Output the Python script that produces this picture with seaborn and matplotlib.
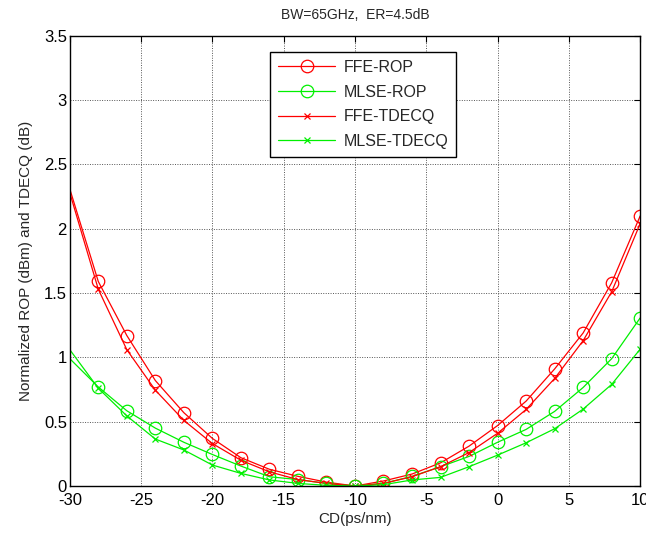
import numpy as np
import pandas as pd
import matplotlib
matplotlib.use("Agg")
import matplotlib.pyplot as plt
import seaborn as sns

cd = [-30, -28, -26, -24, -22, -20, -18, -16, -14, -12, -10, -8, -6, -4, -2, 0, 2, 4, 6, 8, 10]
ffe_rop = [2.31, 1.59, 1.17, 0.82, 0.57, 0.37, 0.22, 0.13, 0.075, 0.03, 0.0,
           0.039, 0.093, 0.18, 0.31, 0.47, 0.66, 0.91, 1.19, 1.58, 2.10]
mlse_rop = [0.99, 0.77, 0.585, 0.45, 0.34, 0.245, 0.155, 0.072, 0.05, 0.02, 0.0,
            0.02, 0.075, 0.15, 0.23, 0.34, 0.44, 0.58, 0.766, 0.99, 1.307]
ffe_tdecq = [2.28, 1.53, 1.06, 0.745, 0.51, 0.33, 0.20, 0.11, 0.05, 0.02, 0.0,
             0.02, 0.072, 0.15, 0.26, 0.41, 0.595, 0.836, 1.13, 1.51, 2.04]
mlse_tdecq = [1.06, 0.76, 0.545, 0.365, 0.28, 0.163, 0.098, 0.047, 0.02, 0.005, 0.0,
              0.01, 0.047, 0.067, 0.15, 0.24, 0.336, 0.445, 0.598, 0.79, 1.064]

series = [
    ("FFE-ROP", ffe_rop, "#ff0000", "o"),
    ("MLSE-ROP", mlse_rop, "#00f000", "o"),
    ("FFE-TDECQ", ffe_tdecq, "#ff0000", "x"),
    ("MLSE-TDECQ", mlse_tdecq, "#00f000", "x"),
]

sns.set_style("white")
plt.rcParams['font.family'] = ['Liberation Sans', 'DejaVu Sans']
plt.rcParams['axes.unicode_minus'] = False

fig = plt.figure(figsize=(6.46, 5.35), dpi=100)
ax = fig.add_axes([0.108, 0.0916, 0.883, 0.8414])

for name, vals, color, mk in series:
    df = pd.DataFrame({"cd": cd, "v": vals})
    if mk == "o":
        kw = dict(marker="o", markersize=9, markerfacecolor="none",
                  markeredgecolor=color, markeredgewidth=0.9)
    else:
        kw = dict(marker="x", markersize=5, markeredgecolor=color, markeredgewidth=0.9)
    sns.lineplot(data=df, x="cd", y="v", ax=ax, color=color, linewidth=0.9,
                 label=name, markevery=list(range(1, len(cd))), **kw)

ax.set_xlim(-30, 10)
ax.set_ylim(0, 3.5)
ax.set_xticks(np.arange(-30, 11, 5))
ax.set_yticks(np.arange(0, 3.51, 0.5))
ax.set_yticklabels(["0", "0.5", "1", "1.5", "2", "2.5", "3", "3.5"])
ax.grid(True, color="#555555", linestyle=(0, (1, 1.5)), linewidth=0.7)
ax.tick_params(direction="in", top=True, right=True, length=4, labelsize=12, colors="black")
ax.tick_params(axis="x", pad=5)
ax.tick_params(axis="y", pad=2)
for s in ax.spines.values():
    s.set_color("black")
    s.set_linewidth(1.0)

ax.set_xlabel("CD(ps/nm)", fontsize=11, labelpad=3)
ax.set_ylabel("Normalized ROP (dBm) and TDECQ (dB)", fontsize=11, labelpad=8)
ax.set_title("BW=65GHz,  ER=4.5dB", fontsize=10, pad=12)

leg = ax.legend(loc="upper left", bbox_to_anchor=(0.351, 0.964), borderaxespad=0,
                fontsize=11.5, frameon=True, fancybox=False, framealpha=1,
                edgecolor="black", handlelength=3.6, handletextpad=0.5,
                borderpad=0.5, labelspacing=0.6)
leg.get_frame().set_linewidth(1.0)

fig.savefig("out.png", dpi=100)
